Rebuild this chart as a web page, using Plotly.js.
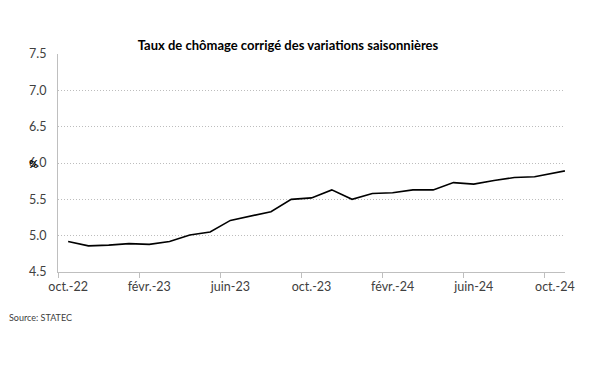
<!DOCTYPE html>
<html>
<head>
<meta charset="utf-8">
<script src="https://cdn.plot.ly/plotly-3.0.1.min.js"></script>
<style>html,body{margin:0;padding:0;background:#fff;}#chart{width:600px;height:370px;}</style>
</head>
<body>
<div id="chart"></div>
<script>
// Months (French abbreviations), oct. 2022 – nov. 2024 (last one is cut by the axis end)
var months = ["oct.-22","nov.-22","déc.-22","janv.-23","févr.-23","mars-23","avr.-23","mai-23","juin-23","juil.-23","août-23","sept.-23",
              "oct.-23","nov.-23","déc.-23","janv.-24","févr.-24","mars-24","avr.-24","mai-24","juin-24","juil.-24","août-24","sept.-24",
              "oct.-24","nov.-24"];
// Seasonally adjusted unemployment rate (%)
var rate = [4.92,4.86,4.87,4.89,4.88,4.92,5.01,5.05,5.21,5.27,5.33,5.50,
            5.52,5.63,5.50,5.58,5.59,5.63,5.63,5.73,5.71,5.76,5.80,5.81,
            5.87,5.92];
var yTicks = [4.5,5.0,5.5,6.0,6.5,7.0,7.5];

var font = "Lato, 'Noto Sans', sans-serif";
var trace = {
  x: months, y: rate, type: "scatter", mode: "lines",
  line: {color: "#000000", width: 1.6}, hoverinfo: "x+y"
};
var layout = {
  width: 600, height: 370,
  margin: {l: 58, r: 35, t: 54, b: 98},
  paper_bgcolor: "#ffffff", plot_bgcolor: "#ffffff",
  showlegend: false,
  title: {
    text: "<b>Taux de chômage corrigé des variations saisonnières</b>",
    font: {family: font, size: 13, color: "#000000"},
    xref: "container", x: 0.48, xanchor: "center",
    yref: "container", y: 0.878, yanchor: "middle"
  },
  xaxis: {
    type: "category",
    range: [-0.5, 24.5],
    dtick: 4,
    tickson: "boundaries",
    ticks: "outside", ticklen: 5, tickcolor: "#bfbfbf",
    showline: true, linecolor: "#bfbfbf", linewidth: 1,
    showgrid: false, zeroline: false,
    ticklabelstandoff: 3,
    tickfont: {family: font, size: 12.5, color: "#404040"},
    tickangle: 0
  },
  yaxis: {
    range: [4.5, 7.5],
    tickvals: yTicks, tickformat: ".1f",
    showline: true, linecolor: "#bfbfbf", linewidth: 1,
    showgrid: true, gridcolor: "#bdbdbd", griddash: "1px,2px", gridwidth: 1,
    zeroline: false, ticks: "",
    ticklabelstandoff: 8,
    tickfont: {family: font, size: 12.5, color: "#404040"}
  },
  annotations: [
    {text: "<b>%</b>", xref: "paper", yref: "paper", x: -0.049, y: 0.5,
     xanchor: "center", yanchor: "middle", showarrow: false,
     font: {family: font, size: 11, color: "#000000"}},
    {text: "Source: STATEC", xref: "paper", yref: "paper", x: -0.1006, y: -0.211,
     xanchor: "left", yanchor: "middle", showarrow: false,
     font: {family: font, size: 9, color: "#404040"}}
  ]
};
Plotly.newPlot("chart", [trace], layout, {displayModeBar: false, staticPlot: true});
</script>
</body>
</html>
